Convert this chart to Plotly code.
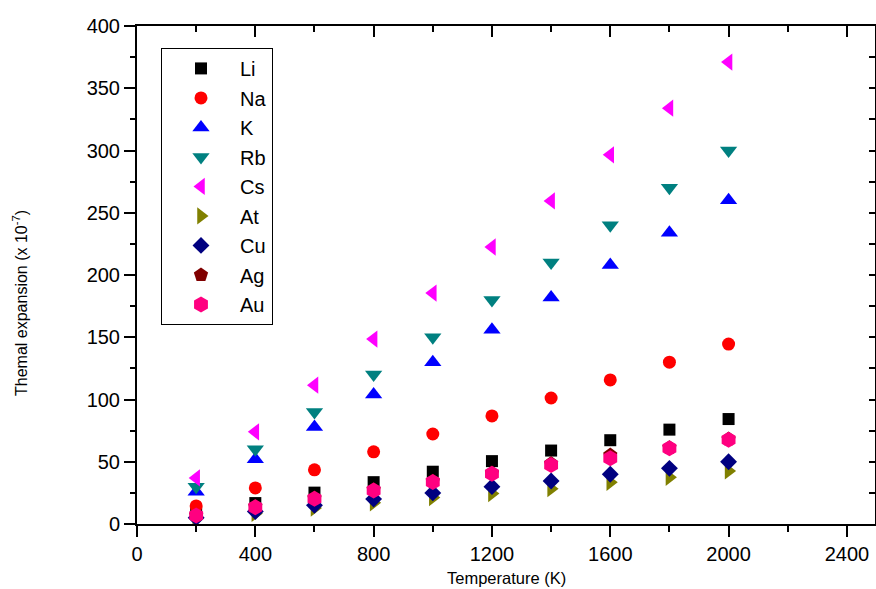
import plotly.graph_objects as go

temperature = [200, 400, 600, 800, 1000, 1200, 1400, 1600, 1800, 2000]

li = [8.4, 16.8, 25.2, 33.6, 42.0, 50.5, 59.0, 67.3, 75.8, 84.3]
na = [14.5, 29.0, 43.5, 58.0, 72.3, 86.8, 101.2, 115.7, 130.0, 144.5]
k = [26.0, 52.0, 78.0, 104.0, 130.0, 156.0, 182.0, 208.0, 234.0, 260.0]
rb = [30.0, 60.0, 90.0, 120.0, 150.0, 180.0, 210.0, 240.0, 270.0, 300.0]
cs = [37.0, 74.0, 111.5, 148.5, 185.5, 222.5, 259.5, 296.5, 334.0, 371.0]
at = [4.3, 8.5, 12.8, 17.0, 21.3, 24.4, 28.4, 33.5, 37.5, 42.6]
cu = [5.0, 10.0, 15.0, 20.0, 25.0, 30.0, 34.5, 39.9, 44.7, 50.0]
ag = [7.0, 14.0, 20.8, 27.6, 34.4, 41.0, 48.5, 55.4, 61.3, 68.2]
au = [6.8, 13.5, 20.3, 27.0, 33.8, 40.4, 47.4, 52.8, 60.8, 67.7]

names = ["Li", "Na", "K", "Rb", "Cs", "At", "Cu", "Ag", "Au"]
series = [li, na, k, rb, cs, at, cu, ag, au]
symbols = ["square", "circle", "triangle-up", "triangle-down", "triangle-left",
           "triangle-right", "diamond", "pentagon", "hexagon"]
colors = ["#000000", "#FF0000", "#0000FF", "#008080", "#FF00FF",
          "#808000", "#000080", "#800000", "#FF0080"]
sizes = [12, 13, 15, 15, 15, 15, 13, 15, 16]

x_ticks = [0, 400, 800, 1200, 1600, 2000, 2400]
y_ticks = [0, 50, 100, 150, 200, 250, 300, 350, 400]
x_range = [0, 2495]
y_range = [0, 400]

fig = go.Figure()
for name, vals, sym, col, sz in zip(names, series, symbols, colors, sizes):
    fig.add_trace(go.Scatter(
        x=temperature, y=vals, mode="markers", name=name,
        legendgroup=name,
        marker=dict(symbol=sym, color=col, size=sz, line=dict(width=0)),
    ))

font_family = "Liberation Sans, Arial, sans-serif"
axis_common = dict(showgrid=False, zeroline=False, showline=True,
                   linecolor="black", linewidth=2, tickcolor="black",
                   tickwidth=2)

fig.update_layout(
    width=876, height=589,
    margin=dict(l=137, r=1, t=26, b=65),
    paper_bgcolor="white", plot_bgcolor="white",
    font=dict(family=font_family, color="black"),
    showlegend=True,
    legend=dict(x=0.0325, y=0.956, xanchor="left", yanchor="top",
                bordercolor="black", borderwidth=1, bgcolor="white",
                font=dict(size=20, family=font_family),
                tracegroupgap=0.5, itemwidth=68),
    xaxis=dict(range=x_range, tickvals=x_ticks, ticks="outside", ticklen=11,
               tickfont=dict(size=20),
               minor=dict(dtick=200, tick0=0, ticks="outside", ticklen=6,
                          tickwidth=2, tickcolor="black"),
               **axis_common),
    yaxis=dict(range=y_range, tickvals=y_ticks, ticks="outside", ticklen=11,
               tickfont=dict(size=20),
               minor=dict(dtick=25, tick0=0, ticks="outside", ticklen=5,
                          tickwidth=2, tickcolor="black"),
               **axis_common),
    xaxis2=dict(range=x_range, overlaying="x", side="top", tickvals=x_ticks,
                ticks="inside", ticklen=11, showticklabels=False,
                minor=dict(dtick=200, tick0=0, ticks="inside", ticklen=6,
                           tickwidth=2, tickcolor="black"),
                **axis_common),
    yaxis2=dict(range=y_range, overlaying="y", side="right", tickvals=y_ticks,
                ticks="inside", ticklen=6, showticklabels=False,
                minor=dict(dtick=25, tick0=0, ticks="inside", ticklen=6,
                           tickwidth=2, tickcolor="black"),
                **axis_common),
    annotations=[
        dict(text="Temperature (K)", xref="paper", yref="paper",
             x=0.5, y=-0.108, xanchor="center", yanchor="middle",
             showarrow=False, font=dict(size=16.5, family=font_family)),
        dict(text="Themal expansion (x 10<sup>-7</sup>)", xref="paper",
             yref="paper", x=-0.1585, y=0.4438, xanchor="center",
             yanchor="middle", textangle=-90, showarrow=False,
             font=dict(size=16, family=font_family)),
    ],
)

# helper trace so the mirrored frame axes render
fig.add_trace(go.Scatter(x=[x_range[0]], y=[y_range[0]], xaxis="x2", yaxis="y2",
                         mode="markers", marker=dict(opacity=0),
                         showlegend=False, hoverinfo="skip"))

fig.write_html("out.html", config={"displayModeBar": False})

# remove the default page margin so the figure fills the window exactly
with open("out.html", "r", encoding="utf-8") as f:
    html = f.read()
html = html.replace("<head>", "<head><style>html,body{margin:0;padding:0;overflow:hidden;}</style>", 1)
with open("out.html", "w", encoding="utf-8") as f:
    f.write(html)
